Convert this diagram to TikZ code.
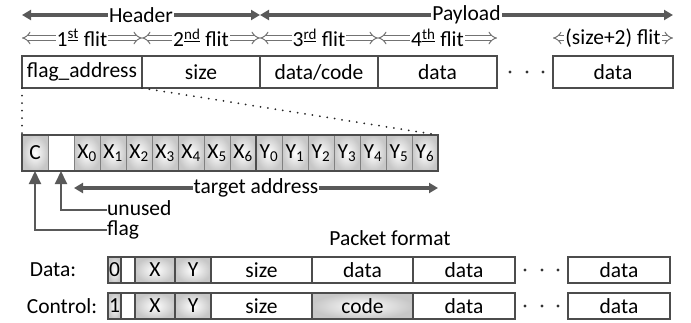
\documentclass[tikz,border=0pt]{standalone}
\usepackage{fontspec}
\setmainfont{Carlito}
\usetikzlibrary{arrows.meta,positioning,calc}

\begin{document}
\begin{tikzpicture}[x=1pt,y=-1pt,font=\fontsize{21.5}{24}\selectfont,
  box/.style={draw=black!70,line width=1.6pt,minimum height=32pt,inner sep=0pt,outer sep=0pt,anchor=north west},
  bit/.style={draw=black!50,line width=.8pt,minimum width=26pt,minimum height=36pt,inner sep=0pt,outer sep=0pt,anchor=north west},
  pk/.style={draw=black!70,line width=1.8pt,minimum height=26pt,inner sep=0pt,outer sep=0pt,anchor=north west},
  shd/.style={inner color=white,outer color=black!22},
  flit/.style={draw=black!55,double=white,double distance=3.4pt,line width=1pt,{Implies}-{Implies}},
  bar/.style={draw=black!65,line width=3.5pt,{Triangle[length=9pt,width=10pt]}-{Triangle[length=9pt,width=10pt]}},
  barshade/.style={left color=black!65,middle color=black!15,right color=black!65},
  lbl/.style={fill=white,inner sep=1pt},
  tag/.style={anchor=west,inner sep=0pt,text height=14pt,text depth=4pt},
  pointer/.style={draw=black!65,line width=2pt,-{Triangle[length=13pt,width=12pt]}},
  dotline/.style={black!85,line width=2pt,dash pattern=on 0pt off 7.5pt,line cap=round}]
\useasboundingbox (0,0) rectangle (691,322);

% flits
\node[box,minimum width=120pt] (fa) at (22,56) {flag\_address};
\node[box,minimum width=118pt,right=0pt of fa] (sz) {size};
\node[box,minimum width=118pt,right=0pt of sz] (dc) {data/code};
\node[box,minimum width=119pt,right=0pt of dc] (d1) {data};
\node[box,minimum width=120pt] (dn) at (553,56) {data};
\foreach \x in {510,527,543} \fill[black!80] (\x,72) circle (1.7pt);

\draw[flit] ([yshift=18pt]fa.north west) -- ([yshift=18pt]fa.north east) node[midway,lbl] {1\textsuperscript{\underline{st}} flit};
\draw[flit] ([yshift=18pt]sz.north west) -- ([yshift=18pt]sz.north east) node[midway,lbl] {2\textsuperscript{\underline{nd}} flit};
\draw[flit] ([yshift=18pt]dc.north west) -- ([yshift=18pt]dc.north east) node[midway,lbl] {3\textsuperscript{\underline{rd}} flit};
\draw[flit] ([yshift=18pt]d1.north west) -- ([yshift=18pt]d1.north east) node[midway,lbl] {4\textsuperscript{\underline{th}} flit};
\draw[flit] ([yshift=18pt]dn.north west) -- ([yshift=18pt]dn.north east) node[midway,lbl] {(size+2) flit};

% header and payload
\coordinate (h1) at ([yshift=41pt]fa.north west);
\coordinate (h2) at ([yshift=41pt]sz.north east);
\coordinate (p1) at ([yshift=41pt]dc.north west);
\coordinate (p2) at ([yshift=41pt]dn.north east);
\draw[bar] (h1) -- (h2);
\shade[barshade] ($(h1)+(8,-1.75)$) rectangle ($(h2)+(-8,1.75)$);
\draw[bar] (p1) -- (p2);
\shade[barshade] ($(p1)+(8,-1.75)$) rectangle ($(p2)+(-8,1.75)$);
\node[lbl] (hd) at ($(h1)!.5!(h2)$) {Header};
\node[lbl] (pl) at ($(p1)!.5!(p2)$) {Payload};

% address bits
\node[bit,shd] (c) at (22,135) {C};
\node[bit,right=0pt of c] (bl) {};
\foreach \i in {0,...,6} \node[bit,shd] (x\i) at (74+26*\i,135) {X\textsubscript{\i}};
\foreach \i in {0,...,6} \node[bit,shd] (y\i) at (256+26*\i,135) {Y\textsubscript{\i}};
\draw[black!70,line width=2.4pt] (c.north west) rectangle (y6.south east);
\draw[black!70,line width=2.4pt] (x6.north east) -- (x6.south east);
\draw[dotline] (fa.south west) -- (c.north west);
\draw[dotline] (fa.south east) -- (y6.north east);

\coordinate (t1) at ([yshift=-17pt]x0.south west);
\coordinate (t2) at ([yshift=-17pt]y6.south east);
\draw[bar] (t1) -- (t2);
\shade[barshade] ($(t1)+(8,-1.75)$) rectangle ($(t2)+(-8,1.75)$);
\node[lbl] (ta) at ($(t1)!.5!(t2)$) {target address};

\node[tag] (un) at (107,210) {unused};
\node[tag] (fl) at (107,230) {flag};
\draw[pointer] (un.west) -| (bl.south);
\draw[pointer] (fl.west) -| (c.south);

% packet format
\node (pf) at (390,238) {Packet format};
\node (dl) at (53,270) {Data:};
\node (cl) at (62,306) {Control:};

\node[pk,shd,minimum width=13pt] (f0) at (108,257) {0};
\node[pk,minimum width=14pt,right=0pt of f0] (u0) {};
\node[pk,shd,minimum width=40pt,right=0pt of u0] (dx) {X};
\node[pk,shd,minimum width=36pt,right=0pt of dx] (dy) {Y};
\node[pk,minimum width=101pt,right=0pt of dy] (ds) {size};
\node[pk,minimum width=101pt,right=0pt of ds] (dd1) {data};
\node[pk,minimum width=102pt,right=0pt of dd1] (dd2) {data};
\node[pk,minimum width=102pt] (ddn) at (568,257) {data};

\node[pk,shd,minimum width=13pt] (f1) at (108,293) {1};
\node[pk,minimum width=14pt,right=0pt of f1] (u1) {};
\node[pk,shd,minimum width=40pt,right=0pt of u1] (cx) {X};
\node[pk,shd,minimum width=36pt,right=0pt of cx] (cy) {Y};
\node[pk,minimum width=101pt,right=0pt of cy] (cs) {size};
\node[pk,shd,minimum width=101pt,right=0pt of cs] (cc) {code};
\node[pk,minimum width=102pt,right=0pt of cc] (cd2) {data};
\node[pk,minimum width=102pt] (cdn) at (568,293) {data};

\foreach \x in {525,542,558} {
  \fill[black!80] (\x,270) circle (1.7pt);
  \fill[black!80] (\x,306) circle (1.7pt);
}
\end{tikzpicture}
\end{document}
